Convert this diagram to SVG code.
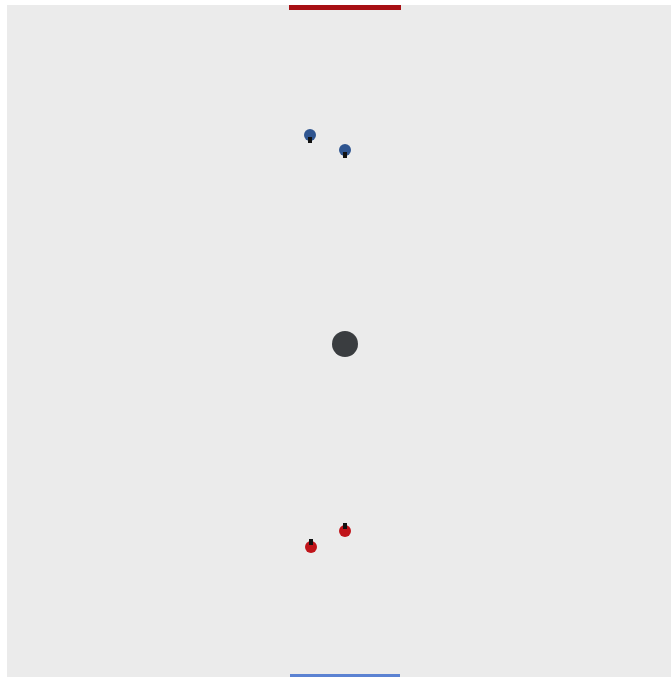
<svg xmlns="http://www.w3.org/2000/svg" width="671" height="677" viewBox="0 0 671 677">
<style>
.blue{fill:#2f5590}
.red{fill:#c0141a}
.mark{fill:#111}
</style>
<rect width="671" height="677" fill="#ffffff"/>
<rect x="7" y="5" width="664" height="672" fill="#ebebeb"/>
<rect x="289" y="5" width="112" height="5" fill="#a81014"/>
<rect x="290" y="674" width="110" height="3" fill="#5b82d2"/>
<g id="blue1"><circle class="blue" cx="310" cy="135" r="6"/><rect class="mark" x="308" y="137" width="4" height="6"/></g>
<g id="blue2"><circle class="blue" cx="345" cy="150" r="6"/><rect class="mark" x="343" y="152" width="4" height="6"/></g>
<g id="ball"><circle cx="345" cy="344" r="13" fill="#3a3d40"/></g>
<g id="red1"><circle class="red" cx="311" cy="547" r="6"/><rect class="mark" x="309" y="539" width="4" height="6"/></g>
<g id="red2"><circle class="red" cx="345" cy="531" r="6"/><rect class="mark" x="343" y="523" width="4" height="6"/></g>
<g id="connectors"/>
</svg>
